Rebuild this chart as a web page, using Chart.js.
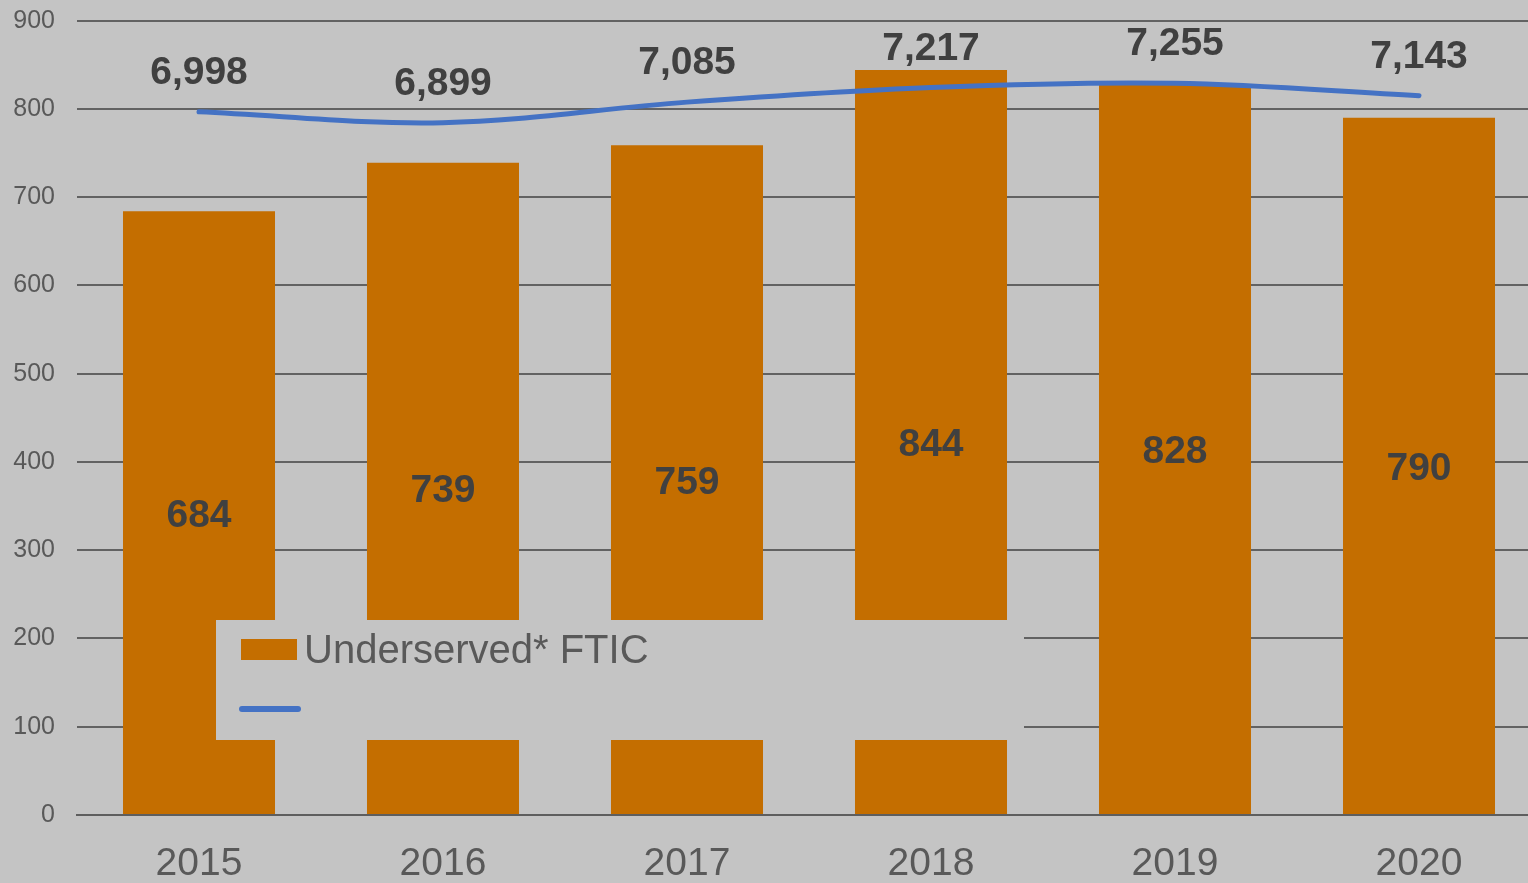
<!DOCTYPE html>
<html>
<head>
<meta charset="utf-8">
<script src="https://cdn.jsdelivr.net/npm/chart.js@4.4.1/dist/chart.umd.min.js"></script>
<style>
  html, body { margin: 0; padding: 0; background: #c4c4c4; overflow: hidden; width: 1528px; height: 883px; }
  #wrap { position: absolute; left: 0; top: 0; width: 1541px; height: 883px; }
</style>
</head>
<body>
<div id="wrap"><canvas id="c" width="1541" height="883"></canvas></div>
<script>
const categories = ['2015', '2016', '2017', '2018', '2019', '2020'];
const underservedFTIC = [684, 739, 759, 844, 828, 790];
const totalFTIC = [6998, 6899, 7085, 7217, 7255, 7143];
const barLabel = 'Underserved* FTIC';
const lineLabel = '';
const yMin = 0, yMax = 900, yStep = 100;
const y2Min = 650, y2Max = 7820;

const BG = '#c4c4c4';
const BAR = '#c46e00';
const LINE = '#4472c4';
const LABEL = '#404040';
const TICK = '#595959';
const FONT = "'Liberation Sans', Arial, sans-serif";

const bgPlugin = {
  id: 'bg',
  beforeDraw(chart) {
    const ctx = chart.ctx;
    ctx.save();
    ctx.fillStyle = BG;
    ctx.fillRect(0, 0, chart.width, chart.height);
    ctx.restore();
  }
};

const labelPlugin = {
  id: 'valueLabels',
  afterDatasetsDraw(chart) {
    const ctx = chart.ctx;
    ctx.save();
    ctx.fillStyle = LABEL;
    ctx.font = 'bold 39px ' + FONT;
    ctx.textAlign = 'center';
    ctx.textBaseline = 'alphabetic';
    chart.data.datasets.forEach((ds, i) => {
      const meta = chart.getDatasetMeta(i);
      meta.data.forEach((el, j) => {
        const txt = ds.data[j].toLocaleString('en-US');
        if (ds.type === 'bar') {
          const mid = (el.y + el.base) / 2;
          ctx.fillText(txt, el.x, mid + 14);
        } else {
          ctx.fillText(txt, el.x, el.y - 28);
        }
      });
    });
    ctx.restore();
  }
};

const legendPlugin = {
  id: 'customLegend',
  afterDraw(chart) {
    const ctx = chart.ctx;
    ctx.save();
    ctx.fillStyle = BG;
    ctx.fillRect(216, 620, 808, 120);
    ctx.fillStyle = BAR;
    ctx.fillRect(241, 639, 56, 21);
    ctx.fillStyle = TICK;
    ctx.font = '40px ' + FONT;
    ctx.textAlign = 'left';
    ctx.textBaseline = 'alphabetic';
    ctx.fillText(barLabel, 304, 663);
    ctx.strokeStyle = LINE;
    ctx.lineWidth = 6;
    ctx.lineCap = 'round';
    ctx.beginPath();
    ctx.moveTo(242, 709);
    ctx.lineTo(298, 709);
    ctx.stroke();
    if (lineLabel) ctx.fillText(lineLabel, 304, 722);
    ctx.restore();
  }
};

new Chart(document.getElementById('c'), {
  data: {
    labels: categories,
    datasets: [
      {
        type: 'line',
        label: lineLabel,
        data: totalFTIC,
        yAxisID: 'y2',
        borderColor: LINE,
        borderWidth: 5,
        borderCapStyle: 'round',
        pointRadius: 0,
        tension: 0.35,
        fill: false,
        order: 0
      },
      {
        type: 'bar',
        label: barLabel,
        data: underservedFTIC,
        yAxisID: 'y',
        backgroundColor: BAR,
        borderWidth: 0,
        barPercentage: 0.623,
        categoryPercentage: 1.0,
        order: 1
      }
    ]
  },
  options: {
    responsive: false,
    animation: false,
    devicePixelRatio: 1,
    layout: { padding: { top: 20.7, left: 0, right: 0, bottom: 0 } },
    plugins: { legend: { display: false }, tooltip: { enabled: false } },
    scales: {
      x: {
        grid: { display: false, drawTicks: false },
        border: { display: true, color: '#5e5e5e', width: 2 },
        ticks: { color: TICK, font: { family: FONT, size: 39 }, padding: 26 },
        afterFit(s) { s.height = 68; s.paddingLeft = 0; s.paddingRight = 0; s.paddingTop = 0; s.paddingBottom = 0; }
      },
      y: {
        position: 'left',
        min: yMin, max: yMax,
        grid: { color: '#626262', lineWidth: 2, drawTicks: false },
        border: { display: false },
        ticks: { stepSize: yStep, color: TICK, font: { family: FONT, size: 25 }, padding: 22 },
        afterFit(s) { s.width = 77; s.paddingTop = 0; s.paddingBottom = 0; s.paddingLeft = 0; s.paddingRight = 0; }
      },
      y2: {
        position: 'right',
        display: false,
        min: y2Min, max: y2Max
      }
    }
  },
  plugins: [bgPlugin, labelPlugin, legendPlugin]
});
</script>
</body>
</html>
